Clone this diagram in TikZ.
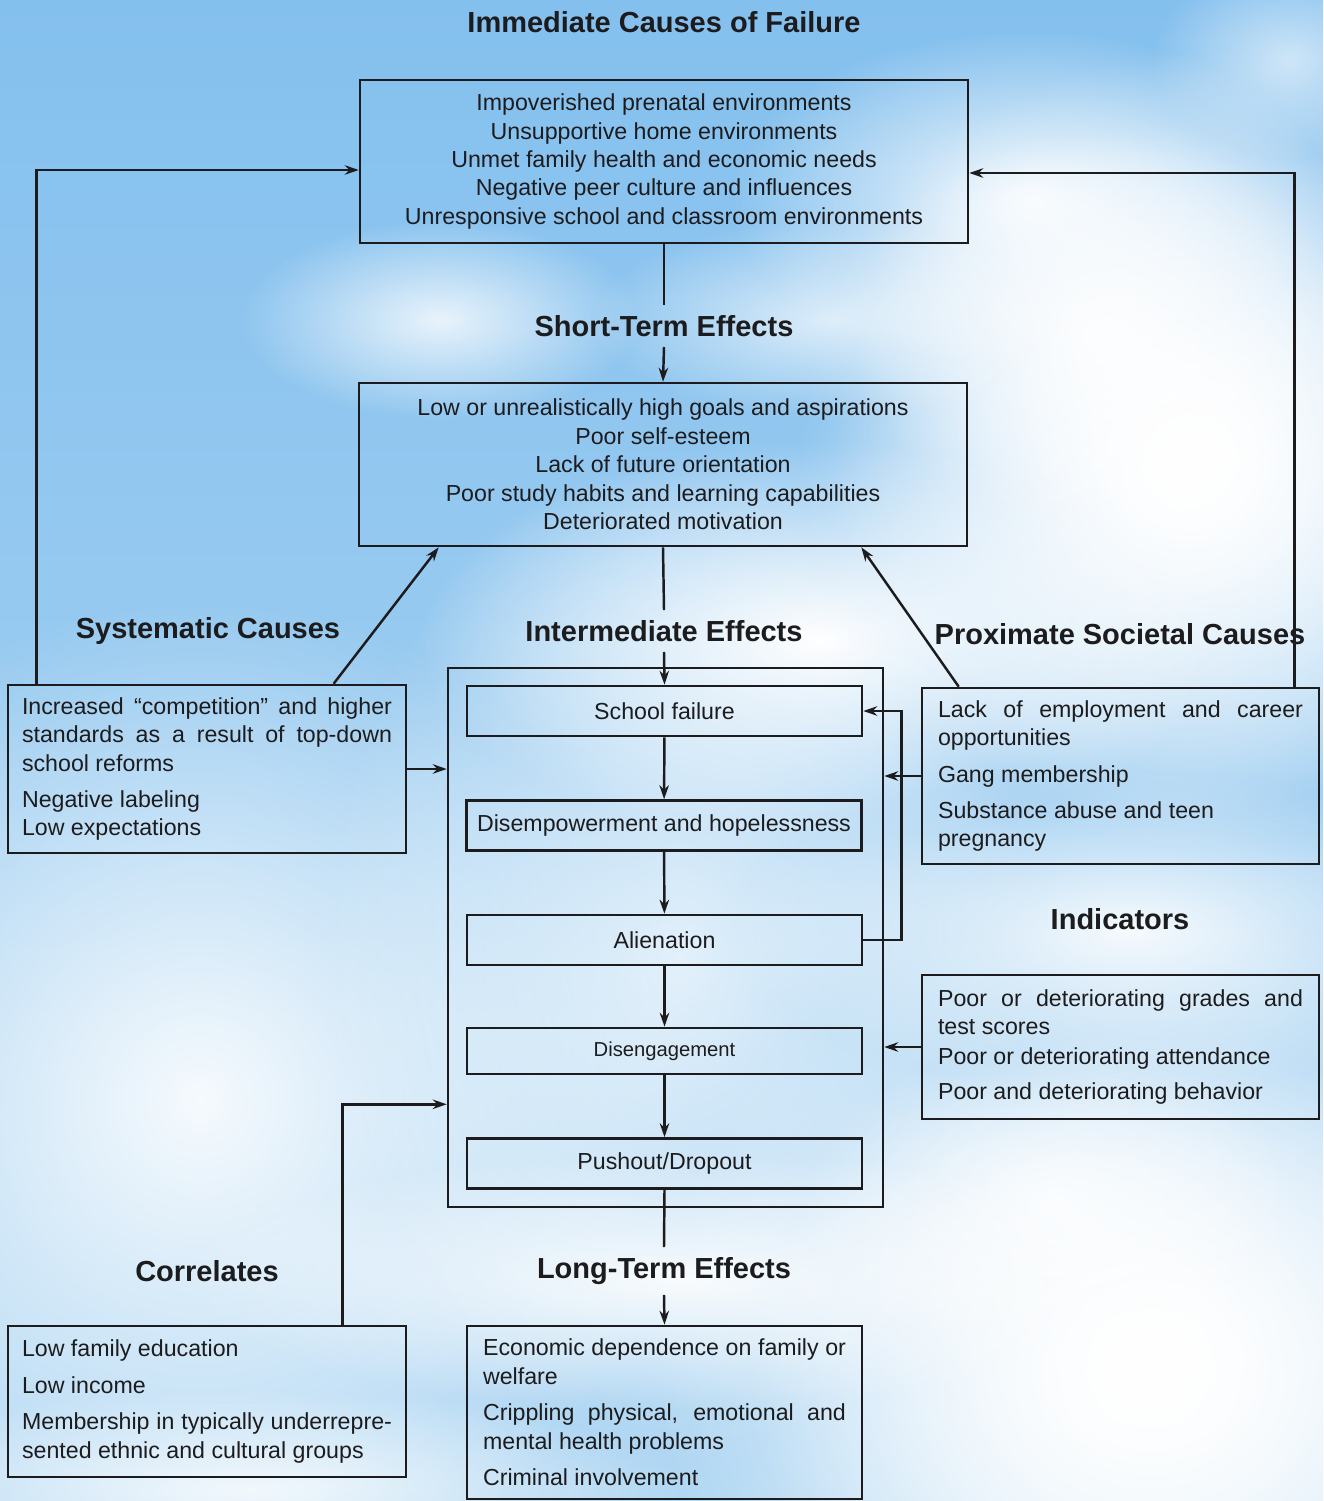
\documentclass[tikz,border=0pt]{standalone}
\usepackage{fontspec}
\setmainfont{Liberation Sans}
\usetikzlibrary{arrows.meta,fadings}
\definecolor{skytop}{RGB}{132,192,238}
\definecolor{skylow}{RGB}{176,215,243}
\definecolor{ink}{RGB}{28,28,30}
\newcommand\boxfont{\fontsize{13.2}{16.2}\selectfont}
\tikzfading[name=puff,inner color=transparent!0,outer color=transparent!100]
\tikzset{
  heading/.style={font=\fontsize{16.5}{19}\selectfont\bfseries,text=ink,inner sep=2mm},
  midbox/.style={draw=ink,line width=1.5pt,minimum width=121.6mm,minimum height=32.6mm,
    align=center,font=\boxfont,text=ink},
  sidebox/.style={draw=ink,line width=1.5pt,text width=#1,inner xsep=2.8mm,align=justify,
    font=\boxfont,text=ink},
  stepbox/.style={draw=ink,line width=1.5pt,minimum width=79mm,minimum height=10mm,
    font=\boxfont,text=ink,inner sep=0pt},
  link/.style={draw=ink,line width=1.4pt},
  cloud/.style={white,path fading=puff,opacity=#1}
}
\begin{document}
\begin{tikzpicture}[x=0.02cm,y=-0.02cm,>={Stealth[length=2.8mm,width=1.9mm]}]
\useasboundingbox (0,0) rectangle (1323,1501);
% sky
\shade[top color=skytop,bottom color=skylow] (0,0) rectangle (1323,1501);
\fill[cloud=1] (1200,450) ellipse [x radius=8cm,y radius=8cm];
\fill[cloud=1] (1180,470) ellipse [x radius=7cm,y radius=7cm];
\fill[cloud=0.9] (1100,330) ellipse [x radius=5cm,y radius=4cm];
\fill[cloud=0.9] (1030,200) ellipse [x radius=6cm,y radius=3.4cm];
\fill[cloud=1] (820,640) ellipse [x radius=8cm,y radius=4cm];
\fill[cloud=0.8] (440,320) ellipse [x radius=4cm,y radius=2cm];
\fill[cloud=0.7] (830,320) ellipse [x radius=4.8cm,y radius=2cm];
\fill[cloud=0.9] (200,1100) ellipse [x radius=10cm,y radius=10cm];
\fill[cloud=1] (1150,1350) ellipse [x radius=10cm,y radius=9cm];
\fill[cloud=1] (1150,1380) ellipse [x radius=8cm,y radius=7cm];
\fill[cloud=0.8] (1050,1200) ellipse [x radius=5cm,y radius=3cm];
\fill[cloud=0.9] (680,1280) ellipse [x radius=10cm,y radius=2.6cm];
\fill[cloud=0.9] (1130,930) ellipse [x radius=8cm,y radius=3.2cm];
\fill[cloud=0.8] (250,1490) ellipse [x radius=8.8cm,y radius=2cm];
\fill[cloud=0.7] (680,960) ellipse [x radius=7.2cm,y radius=10cm];
\fill[cloud=0.6] (1290,60) ellipse [x radius=2.8cm,y radius=2cm];

% headings
\node[heading] (title) at (664,22) {Immediate Causes of Failure};
\node[heading] (shortlbl) at (664,326) {Short-Term Effects};
\node[heading] (interlbl) at (664,631) {Intermediate Effects};
\node[heading] (longlbl) at (664,1271) {Long-Term Effects};
\node[heading] (syslbl) at (208,631) {Systematic Causes};
\node[heading] (proxlbl) at (1120,634) {Proximate Societal Causes};
\node[heading] (indlbl) at (1120,919) {Indicators};
\node[heading] (corrlbl) at (207,1271) {Correlates};

% centre column
\node[midbox] (imm) at (664,161.5) {Impoverished prenatal environments\\Unsupportive home environments\\
  Unmet family health and economic needs\\Negative peer culture and influences\\
  Unresponsive school and classroom environments};
\node[midbox] (short) at (663,464.5) {Low or unrealistically high goals and aspirations\\Poor self-esteem\\
  Lack of future orientation\\Poor study habits and learning capabilities\\Deteriorated motivation};
\node[draw=ink,line width=1.5pt,minimum width=87mm,minimum height=107.8mm] (frame) at (665.5,937.5) {};
\node[stepbox] (fail) at (664.5,711) {School failure};
\node[stepbox] (disemp) at (664,825.5) {Disempowerment and hopelessness};
\node[stepbox] (alien) at (664.5,940) {Alienation};
\node[stepbox,minimum height=9.2mm,font=\fontsize{11.5}{14}\selectfont] (diseng) at (664.5,1051) {Disengagement};
\node[stepbox] (push) at (664.5,1163.5) {Pushout/Dropout};
\node[sidebox=72.6mm,inner xsep=3.2mm,minimum height=34.6mm] (long) at (664.5,1412.5)
  {Economic dependence on family or\linebreak welfare\\[1.6mm]
   Crippling physical, emotional and\linebreak mental health problems\\[1.6mm]
   Criminal involvement};

% side boxes
\node[sidebox=74mm,minimum height=33.6mm] (sys) at (207,769)
  {Increased \char"201C competition\char"201D{} and higher\linebreak
   standards as a result of top-down\linebreak school reforms\\[1.6mm]
   Negative labeling\\Low expectations};
\node[sidebox=73mm,inner xsep=3.2mm,minimum height=35.2mm] (prox) at (1120.5,776)
  {Lack of employment and career\linebreak opportunities\\[1.6mm]
   Gang membership\\[1.6mm]Substance abuse and teen\\pregnancy};
\node[sidebox=73mm,inner xsep=3.2mm,minimum height=28.8mm] (ind) at (1120.5,1047)
  {Poor or deteriorating grades and\linebreak test scores\\[0.4mm]
   Poor or deteriorating attendance\\[1.3mm]Poor and deteriorating behavior};
\node[sidebox=74mm,minimum height=30.2mm] (corr) at (207,1401.5)
  {Low family education\\[1.6mm]Low income\\[1.6mm]
   Membership in typically underrepre-\linebreak sented ethnic and cultural groups};

% connectors
\draw[link] (imm.south) -- (shortlbl.north);
\draw[link,->] (shortlbl.south) -- (short.north);
\draw[link] (short.south) -- (interlbl.north);
\draw[link,->] (interlbl.south) -- (fail.north);
\draw[link,->] (fail) -- (disemp);
\draw[link,->] (disemp) -- (alien);
\draw[link,->] (alien) -- (diseng);
\draw[link,->] (diseng) -- (push);
\draw[link] (push.south) -- (longlbl.north);
\draw[link,->] (longlbl.south) -- (long.north);
\draw[link,->] (sys.east) -- (sys.east -| frame.west);
\draw[link,->] ([xshift=6mm]sys.north west) |- ([yshift=-1.7mm]imm.west);
\draw[link,->] ([xshift=65.4mm]sys.north west) -- ([xshift=16.2mm]short.south west);
\draw[link,->] ([xshift=-5.2mm]prox.north east) |- ([yshift=-2.3mm]imm.east);
\draw[link,->] ([xshift=7.6mm]prox.north west) -- ([xshift=-21.4mm]short.south east);
\draw[link,->] (prox.west) -- (prox.west -| frame.east);
\draw[link,->] (alien.east) -- ++(38,0) |- (fail.east);
\draw[link,->] (ind.west) -- (ind.west -| frame.east);
\draw[link,->] ([xshift=67.2mm]corr.north west) |- ([yshift=20.8mm]frame.south west);
\end{tikzpicture}
\end{document}
